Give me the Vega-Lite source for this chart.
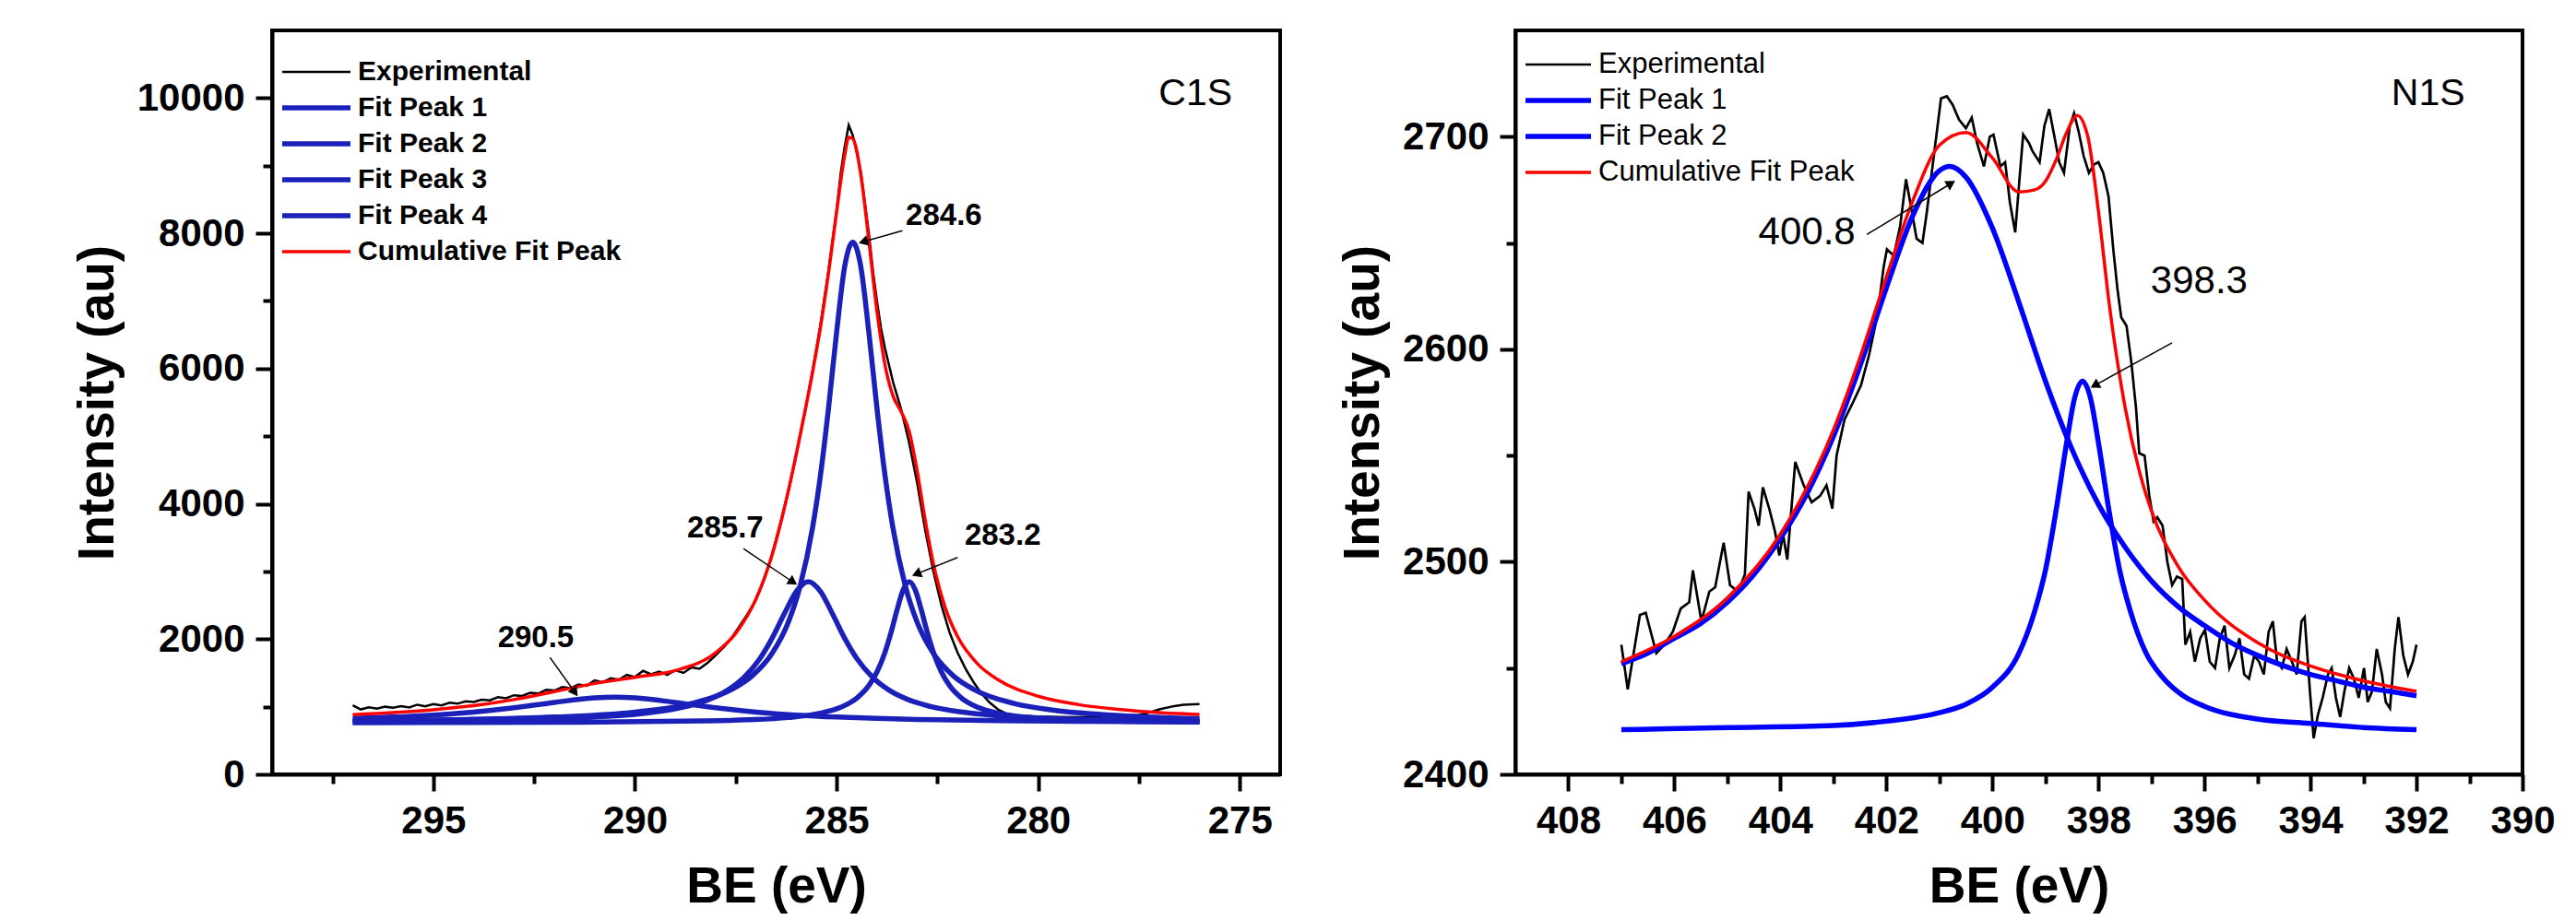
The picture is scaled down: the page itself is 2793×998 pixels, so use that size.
{
"$schema": "https://vega.github.io/schema/vega-lite/v6.json",
"background": "white",
"padding": {"left": 76, "top": 31, "right": 10, "bottom": 0},
"spacing": 58,
"config": {"view": {"stroke": "black", "strokeWidth": 4}, "font": "Liberation Sans"},
"resolve": {"scale": {"color": "independent"}},
"datasets": {
"c1s_exp": [
{"be":297.0,"i":1020},{"be":296.8,"i":960},{"be":296.6,"i":990},{"be":296.4,"i":970},{"be":296.2,"i":1000},{"be":296.0,"i":985},{"be":295.8,"i":1010},{"be":295.6,"i":990},{"be":295.4,"i":1030},{"be":295.2,"i":1005},{"be":295.0,"i":1040},{"be":294.8,"i":1020},{"be":294.6,"i":1060},{"be":294.4,"i":1045},{"be":294.2,"i":1080},{"be":294.0,"i":1070},{"be":293.8,"i":1105},{"be":293.6,"i":1095},{"be":293.4,"i":1140},{"be":293.2,"i":1125},{"be":293.0,"i":1170},{"be":292.8,"i":1160},{"be":292.6,"i":1205},{"be":292.4,"i":1195},{"be":292.2,"i":1250},{"be":292.0,"i":1240},{"be":291.8,"i":1290},{"be":291.6,"i":1275},{"be":291.4,"i":1330},{"be":291.2,"i":1310},{"be":291.0,"i":1390},{"be":290.8,"i":1360},{"be":290.6,"i":1420},{"be":290.4,"i":1400},{"be":290.2,"i":1470},{"be":290.0,"i":1440},{"be":289.8,"i":1530},{"be":289.6,"i":1480},{"be":289.4,"i":1520},{"be":289.2,"i":1470},{"be":289.0,"i":1540},{"be":288.8,"i":1500},{"be":288.6,"i":1580},{"be":288.4,"i":1560},{"be":288.2,"i":1650},{"be":288.0,"i":1760},{"be":287.8,"i":1880},{"be":287.6,"i":2020},{"be":287.4,"i":2200},{"be":287.2,"i":2380},{"be":287.0,"i":2580},{"be":286.8,"i":2880},{"be":286.6,"i":3250},{"be":286.4,"i":3700},{"be":286.2,"i":4180},{"be":286.0,"i":4720},{"be":285.8,"i":5320},{"be":285.6,"i":5950},{"be":285.4,"i":6650},{"be":285.2,"i":7450},{"be":285.0,"i":8330},{"be":284.9,"i":8880},{"be":284.8,"i":9280},{"be":284.7,"i":9600},{"be":284.6,"i":9450},{"be":284.5,"i":9200},{"be":284.4,"i":8900},{"be":284.3,"i":8450},{"be":284.2,"i":8000},{"be":284.1,"i":7450},{"be":284.0,"i":7000},{"be":283.9,"i":6600},{"be":283.8,"i":6300},{"be":283.7,"i":6050},{"be":283.6,"i":5800},{"be":283.5,"i":5600},{"be":283.4,"i":5400},{"be":283.3,"i":5150},{"be":283.2,"i":4900},{"be":283.1,"i":4600},{"be":283.0,"i":4300},{"be":282.9,"i":3950},{"be":282.8,"i":3600},{"be":282.6,"i":3000},{"be":282.4,"i":2500},{"be":282.2,"i":2100},{"be":282.0,"i":1800},{"be":281.8,"i":1560},{"be":281.6,"i":1360},{"be":281.4,"i":1190},{"be":281.2,"i":1060},{"be":281.0,"i":960},{"be":280.8,"i":900},{"be":280.5,"i":870},{"be":280.0,"i":855},{"be":279.5,"i":850},{"be":279.0,"i":845},{"be":278.5,"i":850},{"be":278.0,"i":860},{"be":277.5,"i":880},{"be":277.2,"i":920},{"be":277.0,"i":960},{"be":276.7,"i":1000},{"be":276.4,"i":1030},{"be":276.0,"i":1040}
],
"c1s_fit": [
{"s":"Fit Peak 1","be":297,"i":791},{"s":"Fit Peak 1","be":294.6,"i":808},{"s":"Fit Peak 1","be":292,"i":847},{"s":"Fit Peak 1","be":290,"i":921},{"s":"Fit Peak 1","be":288.6,"i":1048},{"s":"Fit Peak 1","be":287.6,"i":1257},{"s":"Fit Peak 1","be":287.1,"i":1454},{"s":"Fit Peak 1","be":286.6,"i":1789},{"s":"Fit Peak 1","be":286.2,"i":2247},{"s":"Fit Peak 1","be":285.9,"i":2795},{"s":"Fit Peak 1","be":285.6,"i":3635},{"s":"Fit Peak 1","be":285.4,"i":4423},{"s":"Fit Peak 1","be":285.2,"i":5417},{"s":"Fit Peak 1","be":285.0,"i":6536},{"s":"Fit Peak 1","be":284.8,"i":7508},{"s":"Fit Peak 1","be":284.6,"i":7870},{"s":"Fit Peak 1","be":284.4,"i":7508},{"s":"Fit Peak 1","be":284.2,"i":6536},{"s":"Fit Peak 1","be":284.0,"i":5417},{"s":"Fit Peak 1","be":283.8,"i":4423},{"s":"Fit Peak 1","be":283.6,"i":3635},{"s":"Fit Peak 1","be":283.3,"i":2795},{"s":"Fit Peak 1","be":283.0,"i":2247},{"s":"Fit Peak 1","be":282.6,"i":1789},{"s":"Fit Peak 1","be":282.1,"i":1454},{"s":"Fit Peak 1","be":281.6,"i":1257},{"s":"Fit Peak 1","be":280.6,"i":1048},{"s":"Fit Peak 1","be":279.6,"i":947},{"s":"Fit Peak 1","be":278.1,"i":872},{"s":"Fit Peak 1","be":276,"i":824},
{"s":"Fit Peak 2","be":297,"i":780},{"s":"Fit Peak 2","be":294,"i":796},{"s":"Fit Peak 2","be":292,"i":822},{"s":"Fit Peak 2","be":290.7,"i":857},{"s":"Fit Peak 2","be":289.7,"i":907},{"s":"Fit Peak 2","be":288.7,"i":1008},{"s":"Fit Peak 2","be":288.2,"i":1099},{"s":"Fit Peak 2","be":287.7,"i":1245},{"s":"Fit Peak 2","be":287.3,"i":1431},{"s":"Fit Peak 2","be":286.9,"i":1714},{"s":"Fit Peak 2","be":286.6,"i":2012},{"s":"Fit Peak 2","be":286.3,"i":2371},{"s":"Fit Peak 2","be":286.0,"i":2705},{"s":"Fit Peak 2","be":285.7,"i":2850},{"s":"Fit Peak 2","be":285.4,"i":2705},{"s":"Fit Peak 2","be":285.1,"i":2371},{"s":"Fit Peak 2","be":284.8,"i":2012},{"s":"Fit Peak 2","be":284.5,"i":1714},{"s":"Fit Peak 2","be":284.1,"i":1431},{"s":"Fit Peak 2","be":283.7,"i":1245},{"s":"Fit Peak 2","be":283.2,"i":1099},{"s":"Fit Peak 2","be":282.7,"i":1008},{"s":"Fit Peak 2","be":281.7,"i":907},{"s":"Fit Peak 2","be":280.7,"i":857},{"s":"Fit Peak 2","be":278.7,"i":810},{"s":"Fit Peak 2","be":276,"i":787},
{"s":"Fit Peak 3","be":297,"i":764},{"s":"Fit Peak 3","be":292,"i":770},{"s":"Fit Peak 3","be":288.2,"i":790},{"s":"Fit Peak 3","be":287.2,"i":806},{"s":"Fit Peak 3","be":286.2,"i":840},{"s":"Fit Peak 3","be":285.4,"i":905},{"s":"Fit Peak 3","be":284.9,"i":991},{"s":"Fit Peak 3","be":284.5,"i":1127},{"s":"Fit Peak 3","be":284.2,"i":1313},{"s":"Fit Peak 3","be":284.0,"i":1512},{"s":"Fit Peak 3","be":283.8,"i":1805},{"s":"Fit Peak 3","be":283.65,"i":2098},{"s":"Fit Peak 3","be":283.5,"i":2432},{"s":"Fit Peak 3","be":283.35,"i":2727},{"s":"Fit Peak 3","be":283.2,"i":2850},{"s":"Fit Peak 3","be":283.05,"i":2727},{"s":"Fit Peak 3","be":282.9,"i":2432},{"s":"Fit Peak 3","be":282.75,"i":2098},{"s":"Fit Peak 3","be":282.6,"i":1805},{"s":"Fit Peak 3","be":282.4,"i":1512},{"s":"Fit Peak 3","be":282.2,"i":1313},{"s":"Fit Peak 3","be":281.9,"i":1127},{"s":"Fit Peak 3","be":281.5,"i":991},{"s":"Fit Peak 3","be":281.0,"i":905},{"s":"Fit Peak 3","be":280.2,"i":840},{"s":"Fit Peak 3","be":279.2,"i":806},{"s":"Fit Peak 3","be":278.2,"i":790},{"s":"Fit Peak 3","be":276,"i":774},
{"s":"Fit Peak 4","be":297,"i":827},{"s":"Fit Peak 4","be":296,"i":847},{"s":"Fit Peak 4","be":295,"i":877},{"s":"Fit Peak 4","be":294,"i":921},{"s":"Fit Peak 4","be":293,"i":984},{"s":"Fit Peak 4","be":292,"i":1064},{"s":"Fit Peak 4","be":291,"i":1130},{"s":"Fit Peak 4","be":290.5,"i":1140},{"s":"Fit Peak 4","be":290,"i":1130},{"s":"Fit Peak 4","be":289,"i":1064},{"s":"Fit Peak 4","be":288,"i":984},{"s":"Fit Peak 4","be":287,"i":921},{"s":"Fit Peak 4","be":286,"i":877},{"s":"Fit Peak 4","be":285,"i":847},{"s":"Fit Peak 4","be":284,"i":827},{"s":"Fit Peak 4","be":283,"i":812},{"s":"Fit Peak 4","be":281,"i":794},{"s":"Fit Peak 4","be":279,"i":784},{"s":"Fit Peak 4","be":276,"i":776}
],
"c1s_cum": [
{"be":297,"i":882},{"be":296,"i":912},{"be":295,"i":955},{"be":294,"i":1017},{"be":293,"i":1106},{"be":292,"i":1223},{"be":291,"i":1344},{"be":290,"i":1436},{"be":289,"i":1535},{"be":288,"i":1798},{"be":287.5,"i":2087},{"be":287,"i":2591},{"be":286.6,"i":3245},{"be":286.2,"i":4183},{"be":285.9,"i":5029},{"be":285.6,"i":5935},{"be":285.4,"i":6611},{"be":285.2,"i":7414},{"be":285.0,"i":8320},{"be":284.8,"i":9150},{"be":284.7,"i":9420},{"be":284.6,"i":9400},{"be":284.4,"i":8872},{"be":284.2,"i":7890},{"be":284.0,"i":6853},{"be":283.8,"i":6056},{"be":283.6,"i":5593},{"be":283.4,"i":5365},{"be":283.2,"i":5070},{"be":283.0,"i":4478},{"be":282.8,"i":3749},{"be":282.6,"i":3116},{"be":282.3,"i":2452},{"be":282.0,"i":2037},{"be":281.5,"i":1631},{"be":281,"i":1401},{"be":280,"i":1155},{"be":279,"i":1031},{"be":278,"i":960},{"be":277,"i":912},{"be":276,"i":885}
],
"c1s_text": [
{"be":282.34,"i":8256,"t":"284.6"},{"be":287.76,"i":3638,"t":"285.7"},{"be":280.88,"i":3529,"t":"283.2"},{"be":292.46,"i":2016,"t":"290.5"}
],
"c1s_arrow": [
{"k":"A1","be":283.37,"i":8038,"be2":284.34,"i2":7875},{"k":"A2","be":287.31,"i":3338,"be2":286.08,"i2":2842},{"k":"A3","be":282.0,"i":3206,"be2":283.02,"i2":2963},{"k":"A4","be":292.11,"i":1730,"be2":291.49,"i2":1213}
],
"n1s_exp": [
{"be":407.0,"i":2461},{"be":406.88,"i":2440},{"be":406.65,"i":2475},{"be":406.54,"i":2476},{"be":406.34,"i":2457},{"be":406.19,"i":2461},{"be":406.03,"i":2467},{"be":405.88,"i":2478},{"be":405.72,"i":2481},{"be":405.65,"i":2496},{"be":405.49,"i":2472},{"be":405.34,"i":2486},{"be":405.23,"i":2488},{"be":405.07,"i":2509},{"be":404.95,"i":2489},{"be":404.8,"i":2486},{"be":404.67,"i":2494},{"be":404.6,"i":2533},{"be":404.49,"i":2525},{"be":404.41,"i":2517},{"be":404.33,"i":2535},{"be":404.21,"i":2525},{"be":404.1,"i":2514},{"be":404.02,"i":2503},{"be":403.95,"i":2513},{"be":403.87,"i":2501},{"be":403.72,"i":2547},{"be":403.56,"i":2536},{"be":403.41,"i":2528},{"be":403.25,"i":2531},{"be":403.13,"i":2536},{"be":403.02,"i":2525},{"be":402.94,"i":2550},{"be":402.79,"i":2567},{"be":402.63,"i":2575},{"be":402.48,"i":2583},{"be":402.33,"i":2597},{"be":402.17,"i":2616},{"be":402.05,"i":2639},{"be":401.99,"i":2647},{"be":401.86,"i":2644},{"be":401.74,"i":2658},{"be":401.63,"i":2680},{"be":401.55,"i":2669},{"be":401.43,"i":2652},{"be":401.32,"i":2650},{"be":401.24,"i":2664},{"be":401.09,"i":2694},{"be":400.97,"i":2718},{"be":400.86,"i":2719},{"be":400.75,"i":2715},{"be":400.63,"i":2708},{"be":400.5,"i":2704},{"be":400.39,"i":2709},{"be":400.29,"i":2697},{"be":400.16,"i":2686},{"be":400.05,"i":2700},{"be":399.98,"i":2701},{"be":399.85,"i":2686},{"be":399.76,"i":2688},{"be":399.67,"i":2669},{"be":399.57,"i":2655},{"be":399.48,"i":2683},{"be":399.42,"i":2701},{"be":399.31,"i":2697},{"be":399.24,"i":2693},{"be":399.11,"i":2688},{"be":399.02,"i":2705},{"be":398.93,"i":2713},{"be":398.83,"i":2700},{"be":398.74,"i":2688},{"be":398.65,"i":2683},{"be":398.54,"i":2705},{"be":398.46,"i":2711},{"be":398.37,"i":2702},{"be":398.28,"i":2691},{"be":398.18,"i":2683},{"be":398.08,"i":2687},{"be":398.0,"i":2688},{"be":397.91,"i":2683},{"be":397.81,"i":2672},{"be":397.72,"i":2647},{"be":397.64,"i":2628},{"be":397.57,"i":2615},{"be":397.47,"i":2611},{"be":397.38,"i":2594},{"be":397.29,"i":2572},{"be":397.23,"i":2551},{"be":397.13,"i":2550},{"be":397.04,"i":2531},{"be":396.96,"i":2519},{"be":396.89,"i":2521},{"be":396.79,"i":2517},{"be":396.7,"i":2500},{"be":396.61,"i":2489},{"be":396.52,"i":2493},{"be":396.42,"i":2492},{"be":396.36,"i":2461},{"be":396.27,"i":2467},{"be":396.18,"i":2453},{"be":396.08,"i":2464},{"be":395.99,"i":2468},{"be":395.9,"i":2453},{"be":395.8,"i":2450},{"be":395.71,"i":2464},{"be":395.62,"i":2470},{"be":395.53,"i":2450},{"be":395.43,"i":2456},{"be":395.34,"i":2464},{"be":395.25,"i":2447},{"be":395.16,"i":2445},{"be":395.06,"i":2456},{"be":394.97,"i":2453},{"be":394.88,"i":2447},{"be":394.79,"i":2467},{"be":394.71,"i":2472},{"be":394.63,"i":2453},{"be":394.54,"i":2450},{"be":394.45,"i":2459},{"be":394.35,"i":2453},{"be":394.26,"i":2447},{"be":394.17,"i":2472},{"be":394.11,"i":2474},{"be":394.01,"i":2439},{"be":393.94,"i":2417},{"be":393.86,"i":2428},{"be":393.77,"i":2436},{"be":393.67,"i":2447},{"be":393.6,"i":2450},{"be":393.52,"i":2436},{"be":393.44,"i":2427},{"be":393.36,"i":2439},{"be":393.27,"i":2450},{"be":393.18,"i":2445},{"be":393.09,"i":2436},{"be":392.99,"i":2450},{"be":392.92,"i":2434},{"be":392.84,"i":2439},{"be":392.75,"i":2459},{"be":392.65,"i":2447},{"be":392.58,"i":2434},{"be":392.5,"i":2431},{"be":392.41,"i":2459},{"be":392.34,"i":2474},{"be":392.25,"i":2456},{"be":392.16,"i":2447},{"be":392.07,"i":2453},{"be":392.0,"i":2461}
],
"n1s_fit": [
{"s":"Fit Peak 1","be":407,"i":2452},{"s":"Fit Peak 1","be":406.5,"i":2457},{"s":"Fit Peak 1","be":406,"i":2464},{"s":"Fit Peak 1","be":405.5,"i":2471},{"s":"Fit Peak 1","be":405,"i":2481},{"s":"Fit Peak 1","be":404.5,"i":2494},{"s":"Fit Peak 1","be":404,"i":2511},{"s":"Fit Peak 1","be":403.5,"i":2532},{"s":"Fit Peak 1","be":403,"i":2559},{"s":"Fit Peak 1","be":402.5,"i":2592},{"s":"Fit Peak 1","be":402,"i":2629},{"s":"Fit Peak 1","be":401.5,"i":2663},{"s":"Fit Peak 1","be":401,"i":2684},{"s":"Fit Peak 1","be":400.8,"i":2686},{"s":"Fit Peak 1","be":400.5,"i":2681},{"s":"Fit Peak 1","be":400,"i":2657},{"s":"Fit Peak 1","be":399.5,"i":2622},{"s":"Fit Peak 1","be":399,"i":2585},{"s":"Fit Peak 1","be":398.5,"i":2553},{"s":"Fit Peak 1","be":398,"i":2527},{"s":"Fit Peak 1","be":397.5,"i":2507},{"s":"Fit Peak 1","be":397,"i":2491},{"s":"Fit Peak 1","be":396.5,"i":2479},{"s":"Fit Peak 1","be":396,"i":2470},{"s":"Fit Peak 1","be":395.5,"i":2462},{"s":"Fit Peak 1","be":395,"i":2456},{"s":"Fit Peak 1","be":394.5,"i":2451},{"s":"Fit Peak 1","be":394,"i":2447},{"s":"Fit Peak 1","be":393.5,"i":2444},{"s":"Fit Peak 1","be":393,"i":2441},{"s":"Fit Peak 1","be":392.5,"i":2439},{"s":"Fit Peak 1","be":392,"i":2437},
{"s":"Fit Peak 2","be":407,"i":2421},{"s":"Fit Peak 2","be":405,"i":2422},{"s":"Fit Peak 2","be":403,"i":2423},{"s":"Fit Peak 2","be":402,"i":2425},{"s":"Fit Peak 2","be":401,"i":2429},{"s":"Fit Peak 2","be":400.5,"i":2433},{"s":"Fit Peak 2","be":400,"i":2441},{"s":"Fit Peak 2","be":399.5,"i":2457},{"s":"Fit Peak 2","be":399.2,"i":2477},{"s":"Fit Peak 2","be":399,"i":2496},{"s":"Fit Peak 2","be":398.8,"i":2524},{"s":"Fit Peak 2","be":398.6,"i":2556},{"s":"Fit Peak 2","be":398.45,"i":2577},{"s":"Fit Peak 2","be":398.3,"i":2585},{"s":"Fit Peak 2","be":398.15,"i":2577},{"s":"Fit Peak 2","be":398,"i":2556},{"s":"Fit Peak 2","be":397.8,"i":2524},{"s":"Fit Peak 2","be":397.6,"i":2496},{"s":"Fit Peak 2","be":397.4,"i":2477},{"s":"Fit Peak 2","be":397.1,"i":2457},{"s":"Fit Peak 2","be":396.8,"i":2446},{"s":"Fit Peak 2","be":396.4,"i":2437},{"s":"Fit Peak 2","be":396,"i":2432},{"s":"Fit Peak 2","be":395,"i":2426},{"s":"Fit Peak 2","be":394,"i":2424},{"s":"Fit Peak 2","be":393,"i":2422},{"s":"Fit Peak 2","be":392,"i":2421}
],
"n1s_cum": [
{"be":407,"i":2453},{"be":406,"i":2465},{"be":405,"i":2483},{"be":404,"i":2513},{"be":403,"i":2562},{"be":402.5,"i":2596},{"be":402,"i":2634},{"be":401.5,"i":2670},{"be":401,"i":2696},{"be":400.5,"i":2702},{"be":400,"i":2690},{"be":399.5,"i":2674},{"be":399.2,"i":2675},{"be":399.0,"i":2679},{"be":398.8,"i":2689},{"be":398.6,"i":2702},{"be":398.4,"i":2710},{"be":398.2,"i":2700},{"be":398.0,"i":2665},{"be":397.8,"i":2622},{"be":397.5,"i":2573},{"be":397.2,"i":2540},{"be":397.0,"i":2524},{"be":396.5,"i":2498},{"be":396,"i":2482},{"be":395,"i":2462},{"be":394,"i":2451},{"be":393,"i":2444},{"be":392,"i":2439}
],
"n1s_text": [
{"be":403.5,"i":2655,"t":"400.8"},{"be":396.1,"i":2632,"t":"398.3"}
],
"n1s_arrow": [
{"k":"B1","be":402.37,"i":2654,"be2":400.78,"i2":2678},{"k":"B2","be":396.61,"i":2603,"be2":398.07,"i2":2583}
]
},
"hconcat": [
{
"width": 1093, "height": 807,
"layer": [
{"data": {"name": "c1s_exp"}, "transform": [{"calculate": "'Experimental'", "as": "s"}], "mark": {"type": "line", "strokeWidth": 2.5},
 "encoding": {
  "x": {"field": "be", "type": "quantitative", "title": "BE (eV)",
   "scale": {"domain": [274, 299], "reverse": true, "nice": false, "zero": false},
   "axis": {"values": [297.5, 295, 292.5, 290, 287.5, 285, 282.5, 280, 277.5, 275], "format": "d",
    "labelExpr": "datum.value % 5 === 0 ? datum.label : ''",
    "tickSize": {"condition": {"test": "datum.value % 5 === 0", "value": 18}, "value": 10},
    "grid": false, "domainColor": "black", "domainWidth": 4, "tickColor": "black", "tickWidth": 4,
    "labelFont": "Liberation Sans", "labelFontSize": 42, "labelFontWeight": "bold", "labelColor": "black", "labelPadding": 12, "labelFlush": false, "labelOverlap": false,
    "titleFont": "Liberation Sans", "titleFontSize": 55, "titleFontWeight": "bold", "titleColor": "black", "titlePadding": 24}},
  "y": {"field": "i", "type": "quantitative", "title": "Intensity (au)",
   "scale": {"domain": [0, 11000], "nice": false, "zero": false},
   "axis": {"values": [0, 1000, 2000, 3000, 4000, 5000, 6000, 7000, 8000, 9000, 10000], "format": "d",
    "labelExpr": "datum.value % 2000 === 0 ? datum.label : ''",
    "tickSize": {"condition": {"test": "datum.value % 2000 === 0", "value": 18}, "value": 10},
    "grid": false, "domainColor": "black", "domainWidth": 4, "tickColor": "black", "tickWidth": 4,
    "labelFont": "Liberation Sans", "labelFontSize": 42, "labelFontWeight": "bold", "labelColor": "black", "labelPadding": 12, "labelOverlap": false, "labelFlush": false,
    "titleFont": "Liberation Sans", "titleFontSize": 55, "titleFontWeight": "bold", "titleColor": "black", "titlePadding": 14}},
  "color": {"field": "s", "type": "nominal",
   "scale": {"domain": ["Experimental", "Fit Peak 1", "Fit Peak 2", "Fit Peak 3", "Fit Peak 4", "Cumulative Fit Peak"], "range": ["#000000", "#1a20b8", "#1a20b8", "#1a20b8", "#1a20b8", "#ff0000"]},
   "legend": {"orient": "none", "legendX": 8, "legendY": 29, "title": null, "columns": 1, "symbolType": "stroke", "symbolSize": 5476, "symbolStrokeWidth": 5,
    "labelFont": "Liberation Sans", "labelFontSize": 30, "labelFontWeight": "bold", "labelColor": "black", "labelOffset": 5, "rowPadding": 7, "clipHeight": 32, "padding": 0, "labelLimit": 600,
    "encode": {"symbols": {"update": {"strokeWidth": {"signal": "(datum.value === 'Experimental' ? 2.5 : (datum.value === 'Cumulative Fit Peak' ? 3.5 : 5.5))"}}}}}}
 }},
{"data": {"name": "c1s_fit"}, "mark": {"type": "line", "strokeWidth": 5.5, "interpolate": "monotone"},
 "encoding": {"x": {"field": "be", "type": "quantitative"}, "y": {"field": "i", "type": "quantitative"}, "color": {"field": "s", "type": "nominal"}}},
{"data": {"name": "c1s_cum"}, "transform": [{"calculate": "'Cumulative Fit Peak'", "as": "s"}], "mark": {"type": "line", "strokeWidth": 3.5, "interpolate": "monotone"},
 "encoding": {"x": {"field": "be", "type": "quantitative"}, "y": {"field": "i", "type": "quantitative"}, "color": {"field": "s", "type": "nominal"}}},
{"data": {"name": "c1s_arrow"}, "mark": {"type": "rule", "color": "black", "strokeWidth": 1.5},
 "encoding": {"x": {"field": "be", "type": "quantitative"}, "y": {"field": "i", "type": "quantitative"}, "x2": {"field": "be2"}, "y2": {"field": "i2"}}},
{"data": {"name": "c1s_arrow"}, "transform": [{"filter": "datum.k === 'A1'"}], "mark": {"type": "point", "shape": "triangle-up", "filled": true, "color": "black", "size": 140, "angle": 254, "opacity": 1},
 "encoding": {"x": {"field": "be2", "type": "quantitative"}, "y": {"field": "i2", "type": "quantitative"}}},
{"data": {"name": "c1s_arrow"}, "transform": [{"filter": "datum.k === 'A2'"}], "mark": {"type": "point", "shape": "triangle-up", "filled": true, "color": "black", "size": 140, "angle": 124, "opacity": 1},
 "encoding": {"x": {"field": "be2", "type": "quantitative"}, "y": {"field": "i2", "type": "quantitative"}}},
{"data": {"name": "c1s_arrow"}, "transform": [{"filter": "datum.k === 'A3'"}], "mark": {"type": "point", "shape": "triangle-up", "filled": true, "color": "black", "size": 140, "angle": 248, "opacity": 1},
 "encoding": {"x": {"field": "be2", "type": "quantitative"}, "y": {"field": "i2", "type": "quantitative"}}},
{"data": {"name": "c1s_arrow"}, "transform": [{"filter": "datum.k === 'A4'"}], "mark": {"type": "point", "shape": "triangle-up", "filled": true, "color": "black", "size": 140, "angle": 145, "opacity": 1},
 "encoding": {"x": {"field": "be2", "type": "quantitative"}, "y": {"field": "i2", "type": "quantitative"}}},
{"data": {"name": "c1s_text"}, "mark": {"type": "text", "font": "Liberation Sans", "fontSize": 33, "fontWeight": "bold", "color": "black", "align": "center", "baseline": "middle"},
 "encoding": {"x": {"field": "be", "type": "quantitative"}, "y": {"field": "i", "type": "quantitative"}, "text": {"field": "t"}}},
{"data": {"values": [{"be": 276.1, "i": 10060, "t": "C1S"}]}, "mark": {"type": "text", "font": "Liberation Sans", "fontSize": 41, "color": "black", "align": "center", "baseline": "middle"},
 "encoding": {"x": {"field": "be", "type": "quantitative"}, "y": {"field": "i", "type": "quantitative"}, "text": {"field": "t"}}}
]
},
{
"width": 1092, "height": 807,
"layer": [
{"data": {"name": "n1s_exp"}, "transform": [{"calculate": "'Experimental'", "as": "s"}], "mark": {"type": "line", "strokeWidth": 2.7},
 "encoding": {
  "x": {"field": "be", "type": "quantitative", "title": "BE (eV)",
   "scale": {"domain": [390, 409], "reverse": true, "nice": false, "zero": false},
   "axis": {"values": [408, 407, 406, 405, 404, 403, 402, 401, 400, 399, 398, 397, 396, 395, 394, 393, 392, 391, 390], "format": "d",
    "labelExpr": "datum.value % 2 === 0 ? datum.label : ''",
    "tickSize": {"condition": {"test": "datum.value % 2 === 0", "value": 18}, "value": 10},
    "grid": false, "domainColor": "black", "domainWidth": 4, "tickColor": "black", "tickWidth": 4,
    "labelFont": "Liberation Sans", "labelFontSize": 42, "labelFontWeight": "bold", "labelColor": "black", "labelPadding": 12, "labelFlush": false, "labelOverlap": false,
    "titleFont": "Liberation Sans", "titleFontSize": 55, "titleFontWeight": "bold", "titleColor": "black", "titlePadding": 24}},
  "y": {"field": "i", "type": "quantitative", "title": "Intensity (au)",
   "scale": {"domain": [2400, 2750], "nice": false, "zero": false},
   "axis": {"values": [2400, 2450, 2500, 2550, 2600, 2650, 2700], "format": "d",
    "labelExpr": "datum.value % 100 === 0 ? datum.label : ''",
    "tickSize": {"condition": {"test": "datum.value % 100 === 0", "value": 17}, "value": 10},
    "grid": false, "domainColor": "black", "domainWidth": 4, "tickColor": "black", "tickWidth": 4,
    "labelFont": "Liberation Sans", "labelFontSize": 42, "labelFontWeight": "bold", "labelColor": "black", "labelPadding": 12, "labelOverlap": false, "labelFlush": false,
    "titleFont": "Liberation Sans", "titleFontSize": 55, "titleFontWeight": "bold", "titleColor": "black", "titlePadding": 14}},
  "color": {"field": "s", "type": "nominal",
   "scale": {"domain": ["Experimental", "Fit Peak 1", "Fit Peak 2", "Cumulative Fit Peak"], "range": ["#000000", "#0000ff", "#0000ff", "#ff0000"]},
   "legend": {"orient": "none", "legendX": 8, "legendY": 21, "title": null, "columns": 1, "symbolType": "stroke", "symbolSize": 5041, "symbolStrokeWidth": 5,
    "labelFont": "Liberation Sans", "labelFontSize": 31, "labelColor": "black", "labelOffset": 5, "rowPadding": 7, "clipHeight": 32, "padding": 0, "labelLimit": 600,
    "encode": {"symbols": {"update": {"strokeWidth": {"signal": "(datum.value === 'Experimental' ? 2.5 : (datum.value === 'Cumulative Fit Peak' ? 3.5 : 5.5))"}}}}}}
 }},
{"data": {"name": "n1s_fit"}, "mark": {"type": "line", "strokeWidth": 5.5, "interpolate": "monotone"},
 "encoding": {"x": {"field": "be", "type": "quantitative"}, "y": {"field": "i", "type": "quantitative"}, "color": {"field": "s", "type": "nominal"}}},
{"data": {"name": "n1s_cum"}, "transform": [{"calculate": "'Cumulative Fit Peak'", "as": "s"}], "mark": {"type": "line", "strokeWidth": 3.5, "interpolate": "monotone"},
 "encoding": {"x": {"field": "be", "type": "quantitative"}, "y": {"field": "i", "type": "quantitative"}, "color": {"field": "s", "type": "nominal"}}},
{"data": {"name": "n1s_arrow"}, "mark": {"type": "rule", "color": "black", "strokeWidth": 1.5},
 "encoding": {"x": {"field": "be", "type": "quantitative"}, "y": {"field": "i", "type": "quantitative"}, "x2": {"field": "be2"}, "y2": {"field": "i2"}}},
{"data": {"name": "n1s_arrow"}, "transform": [{"filter": "datum.k === 'B1'"}], "mark": {"type": "point", "shape": "triangle-up", "filled": true, "color": "black", "size": 140, "angle": 59, "opacity": 1},
 "encoding": {"x": {"field": "be2", "type": "quantitative"}, "y": {"field": "i2", "type": "quantitative"}}},
{"data": {"name": "n1s_arrow"}, "transform": [{"filter": "datum.k === 'B2'"}], "mark": {"type": "point", "shape": "triangle-up", "filled": true, "color": "black", "size": 140, "angle": 241, "opacity": 1},
 "encoding": {"x": {"field": "be2", "type": "quantitative"}, "y": {"field": "i2", "type": "quantitative"}}},
{"data": {"name": "n1s_text"}, "mark": {"type": "text", "font": "Liberation Sans", "fontSize": 42, "color": "black", "align": "center", "baseline": "middle"},
 "encoding": {"x": {"field": "be", "type": "quantitative"}, "y": {"field": "i", "type": "quantitative"}, "text": {"field": "t"}}},
{"data": {"values": [{"be": 391.78, "i": 2720, "t": "N1S"}]}, "mark": {"type": "text", "font": "Liberation Sans", "fontSize": 41, "color": "black", "align": "center", "baseline": "middle"},
 "encoding": {"x": {"field": "be", "type": "quantitative"}, "y": {"field": "i", "type": "quantitative"}, "text": {"field": "t"}}}
]
}
]
}
